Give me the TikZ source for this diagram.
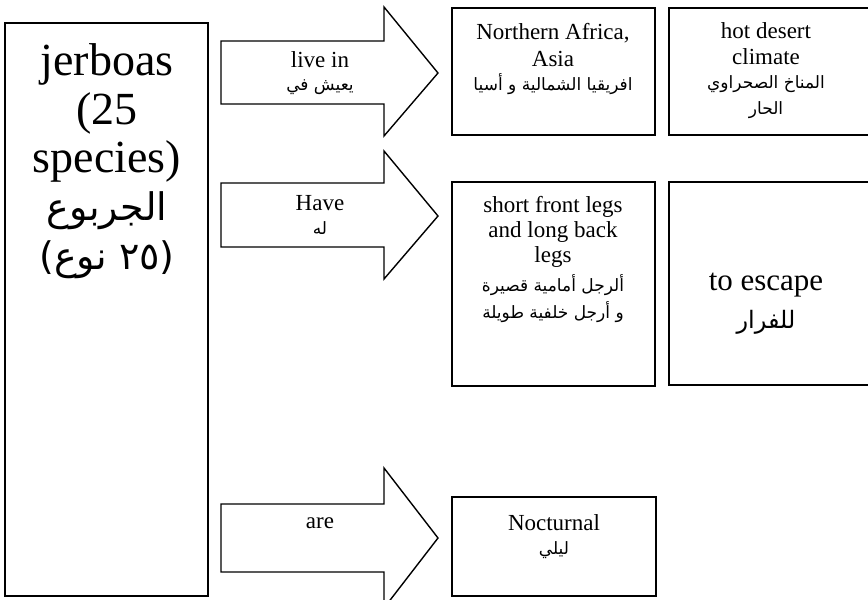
\documentclass[tikz,border=0pt]{standalone}
\usepackage{fontspec}
\setmainfont{Liberation Serif}
\newfontfamily\arabicfont[Script=Arabic]{DejaVu Sans}
\TeXXeTstate=1
\newcommand{\ar}[1]{{\arabicfont\beginR #1\endR}}
\begin{document}
\begin{tikzpicture}[x=1pt,y=-1pt,
  frame/.style={draw=black,line width=1.6pt},
  blockarrow/.style={draw=black,line width=1.4pt,line join=miter},
  lbl/.style={inner sep=0pt,anchor=center,align=center},
  small/.style={font=\fontsize{23}{26}\selectfont},
  smallar/.style={font=\fontsize{17}{26}\selectfont},
  big/.style={font=\fontsize{46}{48}\selectfont},
  bigar/.style={font=\fontsize{38}{48}\selectfont}]
\useasboundingbox (0,0) rectangle (868,600);

% main subject box
\draw[frame] (5,23) rectangle (208,596);
\node[lbl,big]   (t1) at (107,64)  {jerboas};
\node[lbl,big]   (t2) at (107,113) {(25};
\node[lbl,big]   (t3) at (107,161) {species)};
\node[lbl,bigar] (t4) at (107,211) {\ar{الجربوع}};
\node[lbl,bigar] (t5) at (107,260) {\ar{(٢٥ نوع)}};

% block arrows
\draw[blockarrow] (221,41) -- (384,41) -- (384,7) -- (438,73) -- (384,136)
  -- (384,104) -- (221,104) -- cycle;
\draw[blockarrow] (221,183) -- (384,183) -- (384,151) -- (438,216) -- (384,279)
  -- (384,247) -- (221,247) -- cycle;
\draw[blockarrow] (221,504) -- (384,504) -- (384,468) -- (438,538) -- (384,608)
  -- (384,572) -- (221,572) -- cycle;

\node[lbl,small]   (a1) at (320,60)  {live in};
\node[lbl,smallar] (a1r) at (320,87) {\ar{يعيش في}};
\node[lbl,small]   (a2) at (320,203) {Have};
\node[lbl,smallar] (a2r) at (320,228) {\ar{له}};
\node[lbl,small]   (a3) at (320,523) {are};

% target boxes
\draw[frame] (452,8) rectangle (655,135);
\node[lbl,small]   (b1) at (553,33)  {Northern Africa,};
\node[lbl,small]   (b2) at (553,59)  {Asia};
\node[lbl,smallar] (b3) at (553,84)  {\ar{افريقيا الشمالية و أسيا}};

\draw[frame] (669,8) rectangle (880,135);
\node[lbl,small]   (c1) at (766,31)  {hot desert};
\node[lbl,small]   (c2) at (766,57)  {climate};
\node[lbl,smallar] (c3) at (766,84)  {\ar{المناخ الصحراوي}};
\node[lbl,smallar] (c4) at (766,110) {\ar{الحار}};

\draw[frame] (452,182) rectangle (655,386);
\node[lbl,small]   (d1) at (553,207) {short front legs};
\node[lbl,small]   (d2) at (553,232) {and long back};
\node[lbl,small]   (d3) at (553,257) {legs};
\node[lbl,smallar] (d4) at (553,285) {\ar{ألرجل أمامية قصيرة}};
\node[lbl,smallar] (d5) at (553,312) {\ar{و أرجل خلفية طويلة}};

\draw[frame] (669,182) rectangle (880,385);
\node[lbl,font=\fontsize{31}{36}\selectfont] (e1) at (766,285) {to escape};
\node[lbl,font=\fontsize{24}{36}\selectfont] (e2) at (766,322) {\ar{للفرار}};

\draw[frame] (452,497) rectangle (656,596);
\node[lbl,small]   (f1) at (554,523) {Nocturnal};
\node[lbl,smallar] (f2) at (554,550) {\ar{ليلي}};
\end{tikzpicture}
\end{document}
